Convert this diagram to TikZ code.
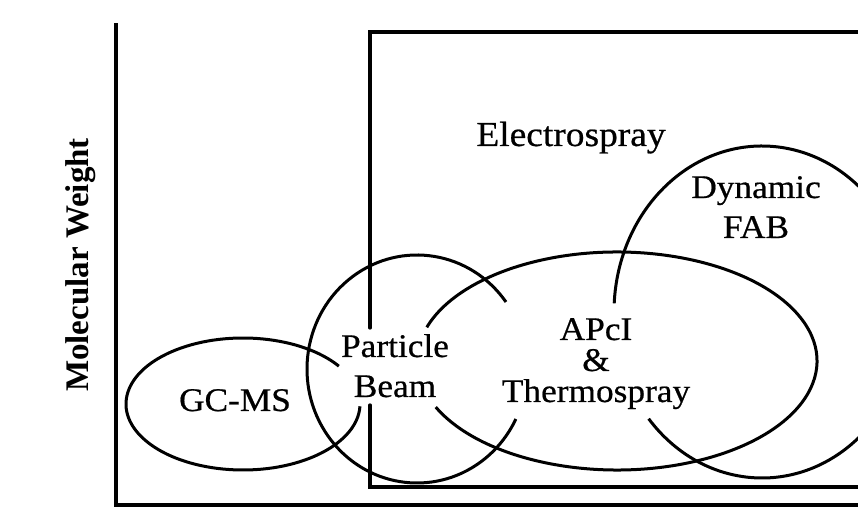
\documentclass[tikz,border=0pt]{standalone}
\usepackage{fontspec}
\setmainfont{Liberation Serif}
\newfontfamily\lblfont[FakeStretch=1.07,FakeBold=0.6]{Liberation Serif}
\RequirePackage{tikz}
\RequirePackage{tkz-euclide}
\usetikzlibrary{calc}

\tikzset{ring/.style={line width=3pt},
         lbl/.style={font=\lblfont\fontsize{33}{40}\selectfont,align=center,inner sep=0pt,anchor=base}}

\begin{document}
\begin{tikzpicture}[x=1pt,y=1pt]
                    \useasboundingbox (0,0) rectangle (858,516);
                    \clip (0,0) rectangle (858,516);

                    \tkzDefPoint(116,491){Y}
                    \tkzDefPoint(116,11){O}
                    \tkzDefPoint(880,11){X}
                    \tkzDrawSegments[line width=4.2pt,line cap=rect](O,Y O,X)

                    \tkzDefPoint(370,188){R0}
                    \tkzDefPoint(370,484){R1}
                    \tkzDefPoint(880,484){R2}
                    \tkzDefPoint(880,29){R3}
                    \tkzDefPoint(370,29){R4}
                    \tkzDefPoint(370,111){R5}
                    \tkzDrawPolySeg[line width=3.3pt](R0,R1,R2,R3,R4,R5)

                    \tkzDefPoint(243,112){G}
                    \tkzDefPoint(417,147){P}
                    \tkzDefPoint(617,155){T}
                    \tkzDefPoint(762,204){F}

                    \draw[ring] ([shift={(35:117pt and 66pt)}]G) arc[start angle=35,end angle=358,x radius=117pt,y radius=66pt];
                    \draw[ring] ([shift={(36:110pt and 114pt)}]P) arc[start angle=36,end angle=334,x radius=110pt,y radius=114pt];
                    \draw[ring] ([shift={(-155:200pt and 109pt)}]T) arc[start angle=-155,end angle=162,x radius=200pt,y radius=109pt];
                    \draw[ring] ([shift={(-140:148pt and 166pt)}]F) arc[start angle=-140,end angle=177,x radius=148pt,y radius=166pt];

                    \node[font=\bfseries\fontsize{33}{40}\selectfont,rotate=90,anchor=base,inner sep=0pt] (mw) at (88,251) {Molecular Weight};
                    \node[lbl,font=\lblfont\fontsize{35}{40}\selectfont] (es) at (571,370) {Electrospray};
                    \node[lbl] (fab) at (756,278) {Dynamic\\FAB};
                    \node[lbl] (pb) at (395,119) {Particle\\Beam};
                    \node[lbl,font=\lblfont\fontsize{33}{31}\selectfont] (apci) at (596,114) {APcI\\\&\\Thermospray};
                    \node[lbl] (gc) at (235,105) {GC-MS};
                \end{tikzpicture}
\end{document}
